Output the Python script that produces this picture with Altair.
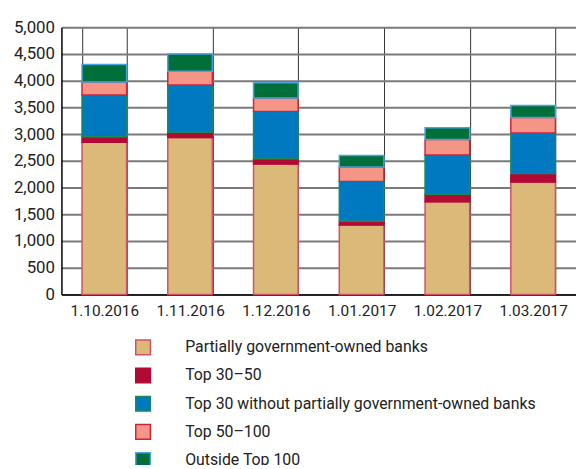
import altair as alt
import pandas as pd

dates = ["1.10.2016", "1.11.2016", "1.12.2016", "1.01.2017", "1.02.2017", "1.03.2017"]
series = [
    "Partially government-owned banks",
    "Top 30\u201350",
    "Top 30 without partially government-owned banks",
    "Top 50\u2013100",
    "Outside Top 100",
]
partially_gov = [2845, 2935, 2440, 1300, 1735, 2105]
top30_50 = [105, 100, 100, 70, 140, 155]
top30_wo = [780, 885, 885, 745, 735, 760]
top50_100 = [245, 255, 250, 270, 290, 290]
outside100 = [325, 325, 285, 215, 220, 225]

fills = ["#dbb978", "#b20a35", "#0079c1", "#f59585", "#006f3a"]
strokes = ["#d4506a", "#b20a35", "#1a8a5a", "#c8283c", "#4aa0e0"]

rows = []
for si, (name, vals) in enumerate(zip(series, [partially_gov, top30_50, top30_wo, top50_100, outside100])):
    for d, v in zip(dates, vals):
        rows.append({"date": d, "series": name, "value": v, "order": si})
df = pd.DataFrame(rows)

FONT = "Roboto"

legend_kw = dict(title=None, orient="none", legendX=74, legendY=315,
                 symbolType="square", symbolSize=220, symbolStrokeWidth=1.5,
                 labelFontSize=16, labelFont=FONT, labelColor="#222222",
                 labelOffset=34, rowPadding=7.5, labelLimit=500)

chart = alt.Chart(df).mark_bar(strokeWidth=1.5).encode(
    x=alt.X("date:N", sort=dates, title=None,
            scale=alt.Scale(paddingInner=0.48, paddingOuter=0.24),
            axis=alt.Axis(labelAngle=0, ticks=False, tickBand="extent", grid=True,
                          gridColor="#333333", gridWidth=1, domainColor="#000000",
                          domainWidth=1.5, labelFontSize=15.5, labelPadding=9,
                          labelColor="#222222", labelFont=FONT)),
    y=alt.Y("value:Q", stack="zero", title=None,
            scale=alt.Scale(domain=[0, 5000], nice=False),
            axis=alt.Axis(values=list(range(0, 5001, 500)), format=",d", ticks=False,
                          gridColor="#7a7a7a", gridWidth=2, domainColor="#000000",
                          domainWidth=1.5, labelFontSize=17, labelPadding=7,
                          labelColor="#222222", labelFont=FONT)),
    fill=alt.Fill("series:N", scale=alt.Scale(domain=series, range=fills),
                  legend=alt.Legend(**legend_kw)),
    stroke=alt.Stroke("series:N", scale=alt.Scale(domain=series, range=strokes),
                      legend=alt.Legend(**legend_kw)),
    order=alt.Order("order:Q"),
).properties(
    width=520, height=270,
    autosize=alt.AutoSizeParams(type="none"),
    padding={"left": 54, "top": 17, "right": 0, "bottom": 170},
).configure_view(stroke=None)

chart.save("out.html", embed_options={"renderer": "svg", "actions": False})
